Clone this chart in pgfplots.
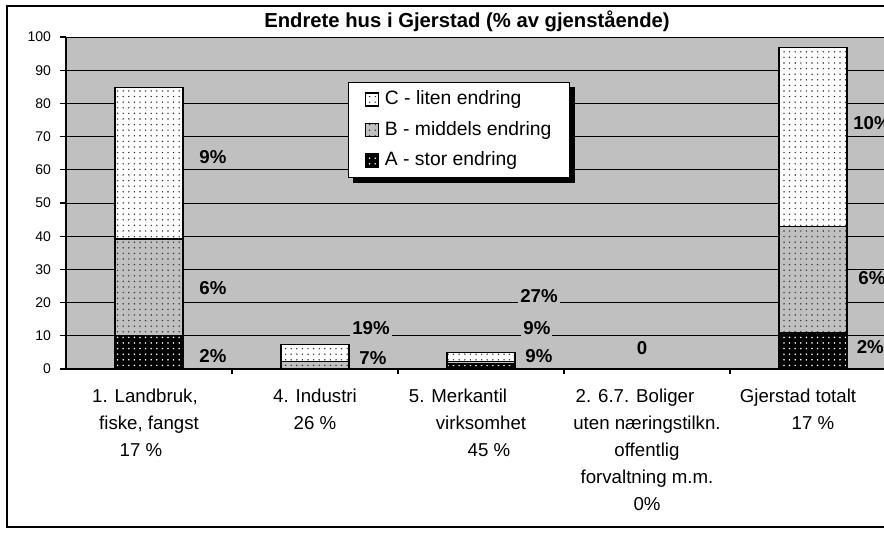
\documentclass[border=0pt]{standalone}
\usepackage{fontspec}
\setmainfont{Liberation Sans}
\usepackage{pgfplots}
\pgfplotsset{compat=1.18}
\usetikzlibrary{patterns.meta}

\definecolor{plotbg}{RGB}{192,192,192}

% bar styles: A black, B grey, C white, all dotted
\pgfplotsset{
  barbox/.style={draw=black, line width=1pt,
    legend image code/.code={\draw[##1] (0pt,-4.875pt) rectangle (9.75pt,4.875pt);}},
  barA/.style={barbox, fill=black,
    postaction={pattern={Dots[distance=4.2pt,radius=0.65pt]}, pattern color=white}},
  barB/.style={barbox, fill=plotbg,
    postaction={pattern={Dots[distance=4.2pt,radius=0.6pt]}, pattern color=black!80}},
  barC/.style={barbox, fill=white,
    postaction={pattern={Dots[distance=4.2pt,radius=0.6pt]}, pattern color=black!80}},
}
\tikzset{lbl/.style={font=\bfseries\fontsize{14}{16}\selectfont, fill=plotbg, inner sep=1.5pt}}

\begin{document}
\begin{tikzpicture}
\path[use as bounding box] (0,0) rectangle (663pt,404.25pt);
\draw[line width=1.5pt] (5.25pt,9pt) rectangle (700pt,399.75pt);
\node[font=\bfseries\fontsize{15.2}{17}\selectfont, anchor=base] at (350.25pt,383.25pt)
  {Endrete hus i Gjerstad (\% av gjenstående)};

\begin{axis}[
  at={(49.5pt,127.5pt)}, anchor=south west,
  scale only axis, width=622.5pt, height=249pt,
  xmin=-0.5, xmax=4.5, ymin=0, ymax=100,
  ybar stacked, bar width=51pt,
  axis background/.style={fill=plotbg},
  axis x line*=bottom, axis y line*=left,
  axis line style={black, line width=0.9pt},
  ymajorgrids, major grid style={black, line width=0.7pt},
  ytick={0,10,...,100},
  tick align=outside, major tick length=4.5pt, minor tick length=4pt,
  tick style={black, line width=0.8pt},
  xtick={0,1,2,3,4},
  minor xtick={0.5,1.5,2.5,3.5},
  major x tick style={draw=none},
  xticklabels={
    {1. Landbruk,\hspace*{6pt}\\fiske, fangst\hspace*{31.5pt}\\17 \%\hspace*{12pt}},
    {4. Industri\\26 \%},
    {5. Merkantil\hspace*{34.5pt}\\virksomhet\hspace*{34.5pt}\\\hspace*{12pt}45 \%},
    {2. 6.7. Boliger\hspace*{18pt}\\uten næringstilkn.\\offentlig\\forvaltning m.m.\\0\%},
    {Gjerstad totalt\hspace*{22.5pt}\\17 \%}},
  xticklabel style={align=center, anchor=north, yshift=-7pt,
    font=\fontsize{14}{20.25}\selectfont},
  yticklabel style={font=\fontsize{10.5}{12}\selectfont, xshift=-3.25pt},
  /pgf/number format/assume math mode=true,
  reverse legend,
  legend style={name=lgd, at={(0.3398,0.8645)}, anchor=north west, draw=black,
    line width=0.8pt, fill=white, font=\fontsize{14.5}{17}\selectfont,
    inner xsep=12pt, inner ysep=4.5pt, row sep=6.4pt,
    nodes={inner sep=1.5pt, text height=10.5pt, text depth=3pt},
    /tikz/every odd column/.append style={column sep=3pt},
    legend cell align=left},
]
\addplot[barA] coordinates {(0,10) (1,0) (2,1.5) (3,0) (4,11)};
\addplot[barB] coordinates {(0,29.2) (1,2.2) (2,0.7) (3,0) (4,31.9)};
\addplot[barC] coordinates {(0,45.5) (1,5.1) (2,2.8) (3,0) (4,54)};
\legend{A - stor endring, B - middels endring, C - liten endring}

\node[lbl] at (0.385,63.9) {9\%};
\node[lbl] at (0.385,24.4) {6\%};
\node[lbl] at (0.385,3.8) {2\%};
\node[lbl] at (1.337,12.3) {19\%};
\node[lbl] at (1.349,3.2) {7\%};
\node[lbl] at (2.337,12.3) {9\%};
\node[lbl] at (2.349,22.0) {27\%};
\node[lbl] at (2.349,3.9) {9\%};
\node[lbl] at (2.970,6.2) {0};
\node[lbl] at (4.355,74.0) {10\%};
\node[lbl] at (4.355,27.3) {6\%};
\node[lbl] at (4.345,6.7) {2\%};
\end{axis}
% legend shadow, right and bottom strips only
\fill[black] ([yshift=-3.75pt]lgd.north east) rectangle ([xshift=3.75pt,yshift=-3.75pt]lgd.south east);
\fill[black] ([xshift=3.75pt]lgd.south west) rectangle ([xshift=3.75pt,yshift=-3.75pt]lgd.south east);
\end{tikzpicture}
\end{document}
